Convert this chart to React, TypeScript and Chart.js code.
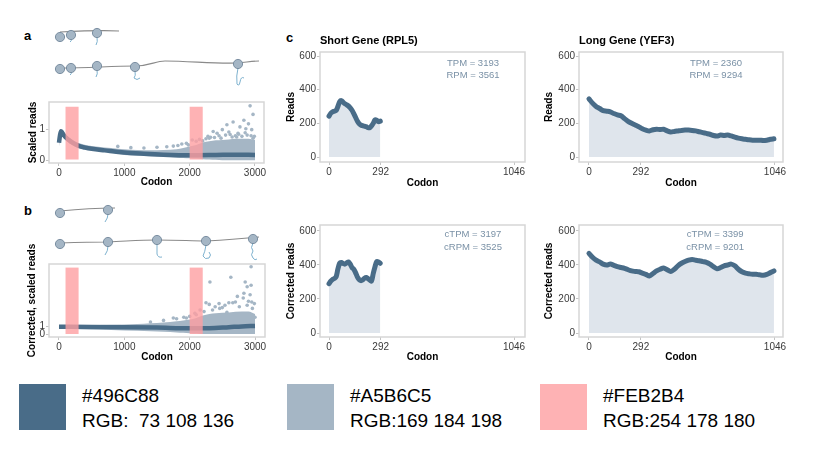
import React, { useEffect, useRef } from 'react';
import { Chart, registerables } from 'chart.js';
Chart.register(...registerables);

const FONT = '"Liberation Sans", Arial, sans-serif';
const DARK = '#496C88';
const LIGHT = '#A5B6C5';
const PINK = '#FEB2B4';
const AREA = '#dfe5ec';
const NOTE = '#7a91a6';

// ---- panel a (scaled reads) ----
const A_LINE_CODON = [0, 15, 30, 50, 70, 100, 150, 200, 300, 400, 500, 700, 1000, 1300, 1600, 2000, 2400, 2700, 3000];
const A_LINE_VALUE = [0.57, 0.8, 0.95, 0.9, 0.83, 0.75, 0.66, 0.58, 0.47, 0.41, 0.37, 0.32, 0.25, 0.21, 0.18, 0.16, 0.17, 0.18, 0.17];
const A_BAND_CODON = [0, 30, 60, 100, 200, 300, 450, 600, 800, 1000, 1200, 1400, 1600, 1800, 1900, 2000, 2100, 2200, 2300, 2400, 2500, 2600, 2700, 2800, 2900, 3000];
const A_BAND_HIGH = [0.65, 1.0, 0.98, 0.85, 0.68, 0.56, 0.48, 0.44, 0.4, 0.36, 0.33, 0.32, 0.33, 0.36, 0.4, 0.45, 0.5, 0.58, 0.62, 0.65, 0.66, 0.68, 0.7, 0.7, 0.7, 0.66];
const A_BAND_LOW = [0.45, 0.85, 0.82, 0.68, 0.5, 0.4, 0.34, 0.3, 0.24, 0.17, 0.14, 0.12, 0.1, 0.08, 0.07, 0.06, 0.05, 0.03, 0.02, 0.01, 0, 0, 0, 0, 0, 0];
const A_OUT_CODON = [2925, 2970, 2665, 2570, 2830, 2900, 2860, 2770, 2500, 2420, 2360, 2280, 1880, 2040, 2200, 2950, 2970, 2740, 2620, 1300, 1500, 1650, 1750, 1950, 2100, 2150, 2320, 2450, 2550, 2700, 2800, 2880, 2990, 1100, 900, 2300, 2600, 2750, 2850, 2250, 2380, 2480, 2650, 2720, 2940, 1820, 1980];
const A_OUT_VALUE = [1.78, 1.5, 1.25, 1.16, 1.31, 1.19, 1.03, 1.09, 1.0, 0.88, 0.94, 0.78, 0.53, 0.66, 0.63, 1.0, 0.72, 0.88, 0.84, 0.4, 0.42, 0.44, 0.46, 0.55, 0.62, 0.68, 0.75, 0.8, 0.82, 0.8, 0.78, 0.82, 0.78, 0.41, 0.45, 0.72, 0.92, 0.85, 0.9, 0.7, 0.74, 0.72, 0.76, 0.76, 0.8, 0.48, 0.5];

// ---- panel b (corrected, scaled reads) ----
const B_LINE_CODON = [0, 500, 1000, 1500, 2000, 2300, 2600, 2800, 3000];
const B_LINE_VALUE = [0.9, 0.88, 0.85, 0.8, 0.72, 0.72, 0.85, 0.95, 1.0];
const B_BAND_CODON = [0, 400, 800, 1200, 1400, 1600, 1800, 1900, 2000, 2100, 2200, 2300, 2400, 2600, 2800, 2900, 3000];
const B_BAND_HIGH = [1.05, 1.1, 1.15, 1.25, 1.35, 1.45, 1.6, 1.7, 1.8, 2.0, 2.3, 2.5, 2.6, 2.7, 2.8, 2.8, 2.5];
const B_BAND_LOW = [0.65, 0.6, 0.5, 0.4, 0.35, 0.28, 0.2, 0.15, 0.1, 0.05, 0, 0, 0, 0, 0, 0, 0];
const B_OUT_CODON = [2940, 2310, 2630, 2850, 2880, 2940, 2830, 2730, 2925, 2820, 2950, 2540, 2390, 2250, 2660, 2880, 1910, 2080, 2160, 2460, 2570, 3000, 1750, 1400, 1600, 1800, 2000, 2100, 2300, 2450, 2700, 2900, 2990, 2600, 2350, 2500, 2760, 2960, 2220, 1950];
const B_OUT_VALUE = [8.4, 6.5, 7.1, 6.5, 5.9, 6.1, 5.1, 4.7, 4.9, 4.5, 4.0, 3.6, 3.4, 3.9, 3.9, 3.6, 2.1, 2.6, 3.0, 3.2, 2.7, 2.1, 2.0, 1.5, 1.7, 1.9, 2.2, 2.4, 3.7, 3.8, 4.0, 4.1, 3.8, 3.9, 3.0, 3.3, 3.4, 3.2, 2.8, 2.0];

const REGIONS = [[100, 300], [2000, 2200]];
const A_REGION_Y = [0.02, 1.75];
const B_REGION_Y = [0, 8.3];

const AB_X_TICKS = [0, 1000, 2000, 3000];
const AB_Y_TICKS = [0, 1];

// ---- panel c ----
const C_X_TICKS = [0, 292, 1046];
const C_Y_TICKS = [0, 200, 400, 600];

const SHORT_CODON = [0, 10, 20, 30, 40, 50, 60, 70, 80, 90, 100, 110, 120, 130, 140, 150, 160, 170, 180, 190, 200, 210, 220, 230, 240, 250, 260, 270, 280, 290];
const SHORT_READS = [243, 260, 268, 272, 276, 300, 328, 335, 325, 316, 310, 303, 292, 278, 258, 236, 214, 198, 190, 186, 183, 180, 175, 174, 185, 200, 220, 218, 210, 213];
const SHORT_CORR = [290, 305, 315, 320, 330, 375, 410, 415, 408, 405, 412, 418, 405, 385, 375, 355, 330, 315, 308, 312, 322, 326, 320, 312, 305, 350, 390, 420, 418, 410];

const LONG_CODON = [0, 20, 40, 60, 80, 100, 120, 140, 160, 180, 200, 220, 240, 260, 280, 300, 320, 340, 360, 380, 400, 420, 440, 460, 480, 500, 520, 540, 560, 580, 600, 620, 640, 660, 680, 700, 720, 740, 760, 780, 800, 820, 840, 860, 880, 900, 920, 940, 960, 980, 1000, 1020, 1040];
const LONG_READS = [345, 320, 300, 288, 275, 272, 268, 258, 250, 245, 228, 212, 200, 190, 180, 168, 160, 155, 162, 165, 163, 165, 155, 148, 152, 155, 158, 160, 160, 158, 155, 150, 145, 140, 135, 128, 125, 130, 128, 130, 125, 118, 112, 108, 105, 102, 100, 100, 100, 98, 100, 105, 108];
const LONG_CORR = [468, 445, 428, 418, 405, 400, 405, 398, 390, 385, 380, 372, 365, 362, 360, 352, 345, 335, 350, 365, 375, 382, 372, 362, 375, 395, 410, 420, 428, 432, 428, 425, 420, 415, 405, 390, 378, 385, 395, 400, 405, 395, 375, 360, 352, 348, 345, 345, 342, 340, 345, 355, 365];

const SHORT_NOTES_TOP = ['TPM = 3193', 'RPM = 3561'];
const LONG_NOTES_TOP = ['TPM = 2360', 'RPM = 9294'];
const SHORT_NOTES_BOT = ['cTPM = 3197', 'cRPM = 3525'];
const LONG_NOTES_BOT = ['cTPM = 3399', 'cRPM = 9201'];

const zip = (xs: number[], ys: number[]) => xs.map((x, i) => ({ x, y: ys[i] }));

const tickFont = { family: FONT, size: 10 };
const titleFont = { family: FONT, size: 10, weight: 'bold' as const };

function axis(kind: 'x' | 'y', min: number, max: number, ticks: number[], size: number, title: string) {
  return {
    type: 'linear',
    position: kind === 'x' ? 'bottom' : 'left',
    min, max, bounds: 'data',
    afterBuildTicks: (s: any) => { s.ticks = ticks.map((v) => ({ value: v })); },
    afterFit: (s: any) => { if (kind === 'x') s.height = size; else s.width = size; },
    ticks: { font: tickFont, color: '#3a3a3a', padding: 1, autoSkip: false, maxRotation: 0, callback: (v: any) => String(v) },
    grid: { drawOnChartArea: false, drawTicks: true, tickLength: 3, color: '#c4c4c4' },
    border: { display: false },
    title: { display: true, text: title, font: titleFont, color: '#000', padding: 0 },
  };
}

type Deco = {
  regions?: number[][];
  regionY?: number[];
  title?: string;
  notes?: string[];
  noteX?: number;
  noteY?: number[];
};

function decoPlugin(p: Deco) {
  return {
    id: 'deco',
    afterDatasetsDraw(chart: any) {
      const { ctx, chartArea: a, scales } = chart;
      const x = scales.x, y = scales.y;
      ctx.save();
      if (p.regions && p.regionY) {
        ctx.fillStyle = 'rgba(254,159,161,0.8)';
        for (const [s, e] of p.regions) {
          const x0 = x.getPixelForValue(s), x1 = x.getPixelForValue(e);
          const y0 = y.getPixelForValue(p.regionY[1]), y1 = y.getPixelForValue(p.regionY[0]);
          ctx.fillRect(x0, y0, x1 - x0, y1 - y0);
        }
      }
      ctx.strokeStyle = '#d6d6d6';
      ctx.lineWidth = 1.5;
      ctx.strokeRect(a.left, a.top, a.right - a.left, a.bottom - a.top);
      if (p.title) {
        ctx.fillStyle = '#000';
        ctx.font = `bold 11px ${FONT}`;
        ctx.textAlign = 'left';
        ctx.textBaseline = 'middle';
        ctx.fillText(p.title, a.left, a.top - 11);
      }
      if (p.notes && p.noteY && p.noteX !== undefined) {
        ctx.fillStyle = NOTE;
        ctx.font = `9.5px ${FONT}`;
        ctx.textAlign = 'center';
        ctx.textBaseline = 'middle';
        p.notes.forEach((t, i) => ctx.fillText(t, x.getPixelForValue(p.noteX), y.getPixelForValue(p.noteY![i])));
      }
      ctx.restore();
    },
  };
}

function scatterConfig(o: any) {
  return {
    type: 'line',
    data: {
      datasets: [
        { data: zip(o.lineX, o.lineY), borderColor: DARK, borderWidth: 4.5, pointRadius: 0, cubicInterpolationMode: 'monotone', fill: false },
        { data: zip(o.outX, o.outY), showLine: false, pointRadius: 1.8, pointBackgroundColor: LIGHT, pointBorderWidth: 0, borderColor: LIGHT },
        { data: zip(o.bandX, o.bandHigh), borderColor: 'transparent', borderWidth: 0, pointRadius: 0, fill: '+1', backgroundColor: LIGHT, cubicInterpolationMode: 'monotone' },
        { data: zip(o.bandX, o.bandLow), borderColor: 'transparent', borderWidth: 0, pointRadius: 0, fill: false, cubicInterpolationMode: 'monotone' },
      ],
    },
    options: {
      animation: false, responsive: true, maintainAspectRatio: false, events: [],
      layout: { padding: o.pad },
      plugins: { legend: { display: false }, tooltip: { enabled: false } },
      scales: {
        x: axis('x', o.xMin, o.xMax, AB_X_TICKS, o.xH, 'Codon'),
        y: axis('y', o.yMin, o.yMax, AB_Y_TICKS, o.yW, o.yTitle),
      },
    },
    plugins: [decoPlugin({ regions: REGIONS, regionY: o.regionY })],
  };
}

function geneConfig(o: any) {
  return {
    type: 'line',
    data: {
      datasets: [
        { data: zip(o.xs, o.ys), borderColor: DARK, borderWidth: 5, pointRadius: 0, tension: 0.3, fill: 'origin', backgroundColor: AREA, borderJoinStyle: 'round', borderCapStyle: 'round' },
      ],
    },
    options: {
      animation: false, responsive: true, maintainAspectRatio: false, events: [],
      layout: { padding: o.pad },
      plugins: { legend: { display: false }, tooltip: { enabled: false } },
      scales: {
        x: axis('x', o.xMin, o.xMax, C_X_TICKS, o.xH, 'Codon'),
        y: axis('y', o.yMin, o.yMax, C_Y_TICKS, o.yW, o.yTitle),
      },
    },
    plugins: [decoPlugin({ title: o.title, notes: o.notes, noteX: o.noteX, noteY: o.noteY })],
  };
}

function ChartBox({ left, top, width, height, make }: any) {
  const ref = useRef<HTMLCanvasElement>(null);
  useEffect(() => {
    const c = new Chart(ref.current as HTMLCanvasElement, make());
    return () => c.destroy();
  }, []);
  return (
    <div style={{ position: 'absolute', left, top, width, height }}>
      <canvas ref={ref} />
    </div>
  );
}

function Ribosomes() {
  const rib = (cx: number, cy: number) => (
    <circle key={`${cx}-${cy}`} cx={cx} cy={cy} r={4.6} fill={LIGHT} stroke="#72879b" strokeWidth={0.9} />
  );
  const chain = '#7eb2cf';
  const mrna = '#8a8a8a';
  return (
    <svg width={818} height={449} style={{ position: 'absolute', left: 0, top: 0 }}>
      {/* panel a */}
      <path d="M60,32 C80,31 100,30 119,31" stroke={mrna} strokeWidth={1.1} fill="none" />
      <path d="M97,37 Q98,42 96,45" stroke={chain} strokeWidth={1} fill="none" />
      <path d="M71,39 Q72,41 70,42" stroke={chain} strokeWidth={1} fill="none" />
      {rib(60, 37)}{rib(71, 35)}{rib(97, 33)}
      <path d="M60,68 C90,68 110,66 135,66 C150,66 155,61 165,61 C190,61 215,64 238,63 C248,62 252,61 259,61" stroke={mrna} strokeWidth={1.1} fill="none" />
      <path d="M97,70 Q98,74 96,77" stroke={chain} strokeWidth={1} fill="none" />
      <path d="M71,72 Q72,74 70,75" stroke={chain} strokeWidth={1} fill="none" />
      <path d="M135,71 Q136,76 134,78 Q137,81 140,78" stroke={chain} strokeWidth={1} fill="none" />
      <path d="M238,68 Q236,76 237,84 Q239,87 240,82 Q241,76 244,78" stroke={chain} strokeWidth={1} fill="none" />
      {rib(60, 69)}{rib(71, 68)}{rib(97, 66)}{rib(135, 67)}{rib(238, 64)}
      {/* panel b */}
      <path d="M60,211 C80,209 100,208 115,208" stroke={mrna} strokeWidth={1.1} fill="none" />
      <path d="M108,214 Q108,218 105,222" stroke={chain} strokeWidth={1} fill="none" />
      {rib(60, 213)}{rib(108, 210)}
      <path d="M60,243 C90,242 100,242 108,242 C130,241 140,240 157,240 C180,240 190,241 206,241 C225,240 240,239 259,237" stroke={mrna} strokeWidth={1.1} fill="none" />
      <path d="M108,246 Q108,251 105,255" stroke={chain} strokeWidth={1} fill="none" />
      <path d="M157,244 L157,254 Q158,258 162,257" stroke={chain} strokeWidth={1} fill="none" />
      <path d="M206,245 Q205,252 203,256 Q205,260 209,258 Q212,255 209,252" stroke={chain} strokeWidth={1} fill="none" />
      <path d="M253,243 Q250,248 253,251 Q250,255 253,258 Q255,261 257,259" stroke={chain} strokeWidth={1} fill="none" />
      {rib(60, 244)}{rib(108, 242)}{rib(157, 240)}{rib(206, 241)}{rib(253, 239)}
    </svg>
  );
}

const LEGEND = [
  { left: 19, color: DARK, hex: '#496C88', rgb: 'RGB:  73 108 136' },
  { left: 287, color: LIGHT, hex: '#A5B6C5', rgb: 'RGB:169 184 198' },
  { left: 540, color: PINK, hex: '#FEB2B4', rgb: 'RGB:254 178 180' },
];

function Letter({ text, left, top }: any) {
  return (
    <div style={{ position: 'absolute', left, top, font: `bold 13px ${FONT}`, lineHeight: '13px', color: '#000' }}>{text}</div>
  );
}

export default function App() {
  return (
    <div style={{ position: 'fixed', left: 0, top: 0, width: 818, height: 449, background: '#fff', overflow: 'hidden' }}>
      <Ribosomes />
      <Letter text="a" left={24} top={29} />
      <Letter text="b" left={24} top={204} />
      <Letter text="c" left={286} top={31} />

      <ChartBox left={27} top={95} width={243} height={93} make={() => scatterConfig({
        lineX: A_LINE_CODON, lineY: A_LINE_VALUE, outX: A_OUT_CODON, outY: A_OUT_VALUE,
        bandX: A_BAND_CODON, bandHigh: A_BAND_HIGH, bandLow: A_BAND_LOW,
        xMin: -153, xMax: 3138, yMin: -0.094, yMax: 1.906, xH: 25, yW: 22,
        pad: { top: 4, right: 6, left: 0, bottom: 0 }, yTitle: 'Scaled reads', regionY: A_REGION_Y,
      })} />
      <ChartBox left={26} top={240} width={245} height={123} make={() => scatterConfig({
        lineX: B_LINE_CODON, lineY: B_LINE_VALUE, outX: B_OUT_CODON, outY: B_OUT_VALUE,
        bandX: B_BAND_CODON, bandHigh: B_BAND_HIGH, bandLow: B_BAND_LOW,
        xMin: -153, xMax: 3153, yMin: -0.375, yMax: 8.75, xH: 26, yW: 23,
        pad: { top: 24, right: 6, left: 0, bottom: 0 }, yTitle: 'Corrected, scaled reads', regionY: B_REGION_Y,
      })} />

      <ChartBox left={285} top={30} width={246} height={159} make={() => geneConfig({
        xs: SHORT_CODON, ys: SHORT_READS, xMin: -51, xMax: 1108, yMin: -29.7, yMax: 623.8,
        xH: 27, yW: 35, pad: { top: 22, right: 6, left: 0, bottom: 0 }, yTitle: 'Reads',
        title: 'Short Gene (RPL5)', notes: SHORT_NOTES_TOP, noteX: 814, noteY: [558, 483],
      })} />
      <ChartBox left={543} top={30} width={246} height={159} make={() => geneConfig({
        xs: LONG_CODON, ys: LONG_READS, xMin: -56, xMax: 1091, yMin: -29.7, yMax: 623.8,
        xH: 27, yW: 36, pad: { top: 22, right: 6, left: 0, bottom: 0 }, yTitle: 'Reads',
        title: 'Long Gene (YEF3)', notes: LONG_NOTES_TOP, noteX: 714, noteY: [558, 483],
      })} />
      <ChartBox left={285} top={205} width={246} height={158} make={() => geneConfig({
        xs: SHORT_CODON, ys: SHORT_CORR, xMin: -51, xMax: 1108, yMin: -23.5, yMax: 635,
        xH: 26, yW: 35, pad: { top: 20, right: 6, left: 0, bottom: 0 }, yTitle: 'Corrected reads',
        notes: SHORT_NOTES_BOT, noteX: 814, noteY: [582, 502],
      })} />
      <ChartBox left={543} top={205} width={246} height={158} make={() => geneConfig({
        xs: LONG_CODON, ys: LONG_CORR, xMin: -56, xMax: 1091, yMin: -23.5, yMax: 635,
        xH: 26, yW: 36, pad: { top: 20, right: 6, left: 0, bottom: 0 }, yTitle: 'Corrected reads',
        notes: LONG_NOTES_BOT, noteX: 710, noteY: [582, 502],
      })} />

      {LEGEND.map((l) => (
        <React.Fragment key={l.hex}>
          <div style={{ position: 'absolute', left: l.left, top: 384, width: 47, height: 46, background: l.color }} />
          <div style={{ position: 'absolute', left: l.left + 63, top: 386, font: `19px ${FONT}`, lineHeight: '19px', color: '#000', whiteSpace: 'pre' }}>{l.hex}</div>
          <div style={{ position: 'absolute', left: l.left + 63, top: 411, font: `19px ${FONT}`, lineHeight: '19px', color: '#000', whiteSpace: 'pre' }}>{l.rgb}</div>
        </React.Fragment>
      ))}
    </div>
  );
}
